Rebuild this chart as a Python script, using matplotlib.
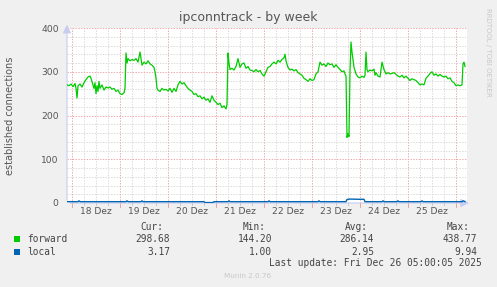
import matplotlib
matplotlib.use("Agg")
import matplotlib.pyplot as plt

# time in hours relative to 18 Dez 00:00
forward_h = [-2.5, -1.5, -0.5, 0.5, 1.5, 2, 2.5, 3, 4, 5, 6, 7, 8, 9, 9.5, 10.5, 11, 11.5, 12, 12.5,
             13, 13.5, 14, 15, 16, 17, 18, 19, 20, 21, 22, 23, 24, 25, 26, 26.5, 27, 27.5, 28, 29,
             30, 31, 32, 33, 34, 34.5, 35, 36, 37, 38, 39, 40, 41, 41.5, 42, 42.5, 43, 44, 45, 46,
             47, 48, 49, 50, 51, 52, 53, 54, 55, 56, 57, 58, 59, 60, 61, 62, 63, 64, 65, 66,
             67, 68, 69, 70, 71, 72, 73, 74, 75, 76, 77, 77.5, 78, 78.5, 79, 80, 81, 82, 83, 84,
             85, 86, 87, 88, 89, 90, 91, 92, 93, 94, 95, 96, 97, 98, 99, 100, 101, 102, 103, 104,
             105, 106, 106.5, 107, 108, 109, 110, 111, 112, 113, 114, 115, 116, 117, 118, 119, 120, 121, 122, 123,
             124, 125, 126, 127, 128, 129, 130, 131, 132, 133, 134, 135, 136, 136.5, 137, 137.5, 138, 138.5, 139, 139.5,
             140, 140.5, 141, 142, 143, 144, 145, 146, 146.5, 147, 147.5, 148, 149, 150, 151, 151.5, 152, 153, 154, 155,
             156, 157, 158, 159, 160, 161, 162, 163, 164, 165, 166, 167, 168, 169, 170, 171, 172, 173, 174, 175,
             176, 177, 178, 179, 180, 181, 182, 183, 184, 185, 186, 187, 188, 189, 190, 191, 192, 193, 194, 195,
             195.5, 196, 196.5]
forward = [270, 268, 272, 266, 273, 262, 240, 268, 272, 265, 275, 282, 288, 290, 285, 270, 262, 275, 250, 268,
           255, 278, 262, 270, 258, 265, 263, 265, 260, 262, 255, 258, 250, 248, 252, 262, 343, 320, 330, 325,
           328, 326, 330, 322, 345, 330, 315, 322, 318, 325, 318, 315, 310, 300, 285, 262, 258, 255, 262, 258,
           260, 256, 262, 253, 262, 255, 270, 278, 272, 275, 268, 262, 258, 255, 248, 250, 243, 245, 238, 242,
           235, 238, 230, 245, 235, 230, 225, 228, 218, 222, 215, 225, 343, 320, 305, 308, 304, 312, 330, 310,
           318, 320, 308, 312, 304, 303, 300, 305, 300, 303, 295, 290, 300, 310, 312, 318, 322, 318, 326, 322,
           328, 332, 340, 325, 310, 304, 306, 302, 305, 298, 295, 292, 285, 282, 278, 284, 280, 282, 295, 300,
           322, 315, 318, 312, 320, 316, 318, 310, 316, 310, 305, 300, 302, 295, 290, 150, 158, 152, 300, 368,
           345, 328, 310, 295, 288, 286, 290, 287, 292, 345, 305, 300, 304, 302, 306, 292, 298, 290, 288, 322,
           305, 295, 298, 295, 296, 298, 294, 290, 288, 292, 286, 290, 285, 280, 284, 282, 280, 275, 270, 272,
           270, 285, 290, 296, 300, 292, 295, 290, 294, 290, 288, 290, 284, 286, 278, 275, 268, 270, 268, 270,
           318, 322, 312]

local_h = [-2.5, 3, 3.5, 4, 27, 27.5, 28, 34.5, 35, 35.5, 66, 66.5, 70.5, 71, 78, 78.5, 79, 98, 98.5, 99,
           123, 123.5, 124, 137, 137.5, 139, 143, 146, 146.5, 155, 155.5, 156, 162.5, 163, 163.5,
           174.5, 175, 175.5, 195, 195.5, 196.5]
local = [3, 3, 5, 3, 3, 5, 3, 3, 5, 3, 3, 1, 1, 3, 3, 5, 3, 3, 5, 3,
         3, 5, 3, 3, 8, 9, 8.5, 8.5, 3, 3, 5, 3, 3, 5, 3,
         3, 5, 3, 3, 5, 3.2]

day_labels = ["18 Dez", "19 Dez", "20 Dez", "21 Dez", "22 Dez", "23 Dez", "24 Dez", "25 Dez"]
names = ["forward", "local"]
colors = ["#00CC00", "#0066B3"]
cur = ["298.68", "3.17"]
mins = ["144.20", "1.00"]
avgs = ["286.14", "2.95"]
maxs = ["438.77", "9.94"]

W, H = 497, 287
fig = plt.figure(figsize=(W / 100, H / 100), dpi=100, facecolor="#F0F0F0")


def px(x, y):
    return x / W, 1 - y / H


ax = fig.add_axes([67 / W, (H - 203) / H, 400 / W, 175 / H])
ax.set_facecolor("white")
ax.set_xlim(-2.5, 197.5)
ax.set_ylim(0, 400)
for s in ax.spines.values():
    s.set_visible(False)

# grid
for h in range(-0, 198, 6):
    if h % 24 == 0:
        continue
    ax.axvline(h, color="#DADADA", lw=0.7, ls=(0, (1.4, 1.4)), zorder=1)
    ax.axvline(h, ymin=-0.012, ymax=0, color="#C8C8C8", lw=0.7, clip_on=False)
for v in range(20, 400, 20):
    if v % 100 == 0:
        continue
    ax.axhline(v, color="#DADADA", lw=0.7, ls=(0, (1.4, 1.4)), zorder=1)
for h in range(0, 198, 24):
    ax.axvline(h, color="#F0A8A8", lw=0.7, ls=(0, (1.4, 1.4)), zorder=1.5)
    ax.axvline(h, ymin=-0.02, ymax=0, color="#F0A0A0", lw=0.7, clip_on=False)
for v in range(100, 401, 100):
    ax.axhline(v, color="#F0A8A8", lw=0.7, ls=(0, (1.4, 1.4)), zorder=1.5)

ax.plot(forward_h, forward, color=colors[0], lw=0.9, zorder=3)
ax.plot(local_h, local, color=colors[1], lw=1.0, zorder=3)

# axes with arrows
ax.annotate("", xy=(1.012, 0), xytext=(0, 0), xycoords="axes fraction",
            arrowprops=dict(arrowstyle="-|>,head_length=0.5,head_width=0.25", color="#C8CCF0", lw=0.8),
            zorder=2, annotation_clip=False)
ax.annotate("", xy=(0, 1.035), xytext=(0, 0), xycoords="axes fraction",
            arrowprops=dict(arrowstyle="-|>,head_length=0.5,head_width=0.25", color="#C8CCF0", lw=0.8),
            zorder=2, annotation_clip=False)

ax.set_xticks([12 + 24 * i for i in range(len(day_labels))])
ax.set_xticklabels(day_labels)
ax.set_yticks([0, 100, 200, 300, 400])
ax.tick_params(axis="both", length=0, labelsize=6.6, colors="#555555")
ax.tick_params(axis="x", pad=3)
ax.tick_params(axis="y", pad=6)
ax.set_ylabel("established connections", fontsize=7, color="#555555", labelpad=19)

fig.text(*px(248.5, 17), "ipconntrack - by week", ha="center", va="center", fontsize=9, color="#555555")
fig.text(*px(488, 52), "RRDTOOL / TOBI OETIKER", ha="center", va="center", rotation=270,
         fontsize=5, color="#C8C8C8")

mono = dict(family="DejaVu Sans Mono", fontsize=6.85, color="#444444", va="center")
for x, hdr in zip([163, 266, 368, 470], ["Cur:", "Min:", "Avg:", "Max:"]):
    fig.text(*px(x, 227), hdr, ha="right", **mono)
for i in range(2):
    y = 239 + 13 * i
    fig.patches.append(plt.Rectangle(px(14, y + 3), 6 / W, 6 / H, transform=fig.transFigure,
                                     facecolor=colors[i], edgecolor="none"))
    fig.text(*px(27, y), names[i], ha="left", **mono)
    for x, val in zip([170, 272, 374, 477], [cur[i], mins[i], avgs[i], maxs[i]]):
        fig.text(*px(x, y), val, ha="right", **mono)
fig.text(*px(482, 263), "Last update: Fri Dec 26 05:00:05 2025", ha="right", **mono)
fig.text(*px(248, 276), "Munin 2.0.76", ha="center", va="center", fontsize=5.2, color="#C8C8C8")

fig.savefig("out.png", dpi=100, facecolor=fig.get_facecolor())
